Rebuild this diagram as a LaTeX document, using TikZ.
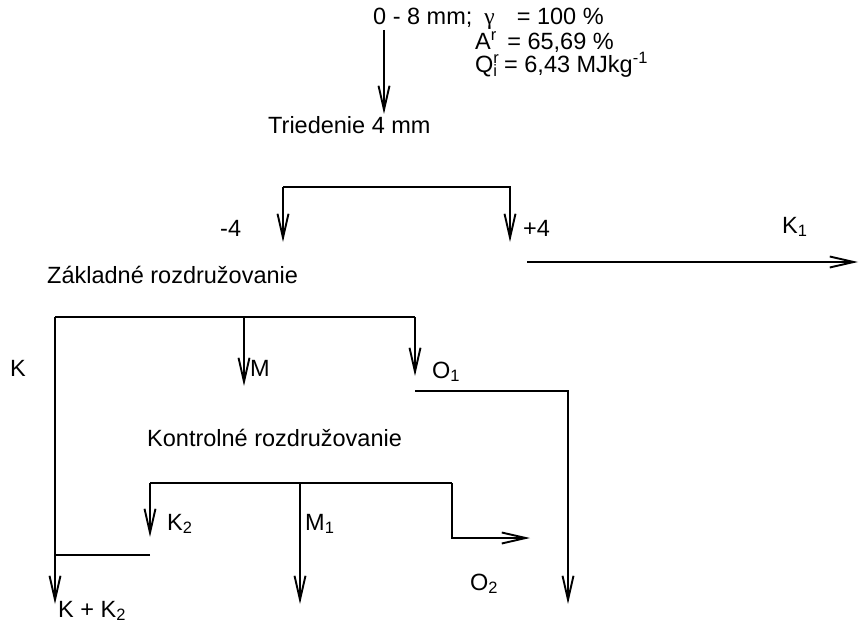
\documentclass[tikz,border=0pt]{standalone}
\usepackage{fontspec}
\setmainfont{Liberation Sans}
\newfontfamily\greekfont{Liberation Serif}
\usetikzlibrary{arrows.meta}

\begin{document}
\begin{tikzpicture}[
    x=1pt, y=-1pt,
    every node/.style={font=\fontsize{23.5}{27}\selectfont},
    lbl/.style={anchor=base west, inner sep=0pt},
    flow/.style={line width=1.9pt},
    arrow/.style={flow, -{Straight Barb[length=24pt, width=11pt, line width=1.9pt]}}
]
\useasboundingbox (0,0) rectangle (861,623);

% Feed
\node[lbl] (feed) at (373,25) {0 - 8 mm;\hspace{12pt}{\greekfont γ}\hspace{22pt}= 100 \%};
\node[lbl] (ash) at (475,50) {A\textsuperscript{r}\, = 65,69 \%};
\node[lbl] (heat) at (475,73) {Q\rlap{\textsuperscript{r}}\textsubscript{i} = 6,43 MJkg\textsuperscript{-1}};
\node[lbl] (sort) at (268,133) {Triedenie 4 mm};
\coordinate (f0) at (384,30);
\coordinate (f1) at (384,114);
\draw[arrow] (f0) -- (f1);

% Screening 4 mm
\coordinate (s0) at (283,187);
\coordinate (s1) at (510,187);
\node[lbl] (minus) at (220,236) {-4};
\node[lbl] (plus) at (523,236) {+4};
\node[lbl] (k1) at (782,233) {K\textsubscript{1}};
\draw[arrow] (s0) -- (283,242);
\draw[arrow] (s0) -- (s1) -- (510,242);
\coordinate (k1a) at (527,262);
\coordinate (k1b) at (858,262);
\draw[arrow] (k1a) -- (k1b);

% Basic separation
\node[lbl] (basic) at (47,283) {Základné rozdružovanie};
\coordinate (b0) at (55,317);
\coordinate (b1) at (244,317);
\coordinate (b2) at (415,317);
\node[lbl] (k) at (10,376) {K};
\node[lbl] (m) at (250,376) {M};
\node[lbl] (o1) at (432,378) {O\textsubscript{1}};
\draw[flow] (b0) -- (b2);
\draw[arrow] (b1) -- (244,386);
\draw[arrow] (b2) -- (415,376);
\coordinate (o1a) at (415,391);
\coordinate (o1b) at (568,604);
\draw[arrow] (o1a) -| (o1b);

% Control separation
\node[lbl] (control) at (147,446) {Kontrolné rozdružovanie};
\coordinate (c0) at (150,483);
\coordinate (c1) at (300,483);
\coordinate (c2) at (452,483);
\node[lbl] (k2) at (167,530) {K\textsubscript{2}};
\node[lbl] (m1) at (305,530) {M\textsubscript{1}};
\node[lbl] (o2) at (470,590) {O\textsubscript{2}};
\draw[flow] (c0) -- (c2);
\draw[arrow] (c0) -- (150,537);
\draw[arrow] (c1) -- (300,604);
\coordinate (o2b) at (530,538);
\draw[arrow] (c2) |- (o2b);

% Merged concentrate
\coordinate (j0) at (150,555);
\coordinate (j1) at (55,555);
\coordinate (j2) at (55,604);
\node[lbl] (kk2) at (58,617) {K + K\textsubscript{2}};
\draw[flow] (b0) -- (j1);
\draw[arrow] (j0) -- (j1) -- (j2);

\end{tikzpicture}
\end{document}
